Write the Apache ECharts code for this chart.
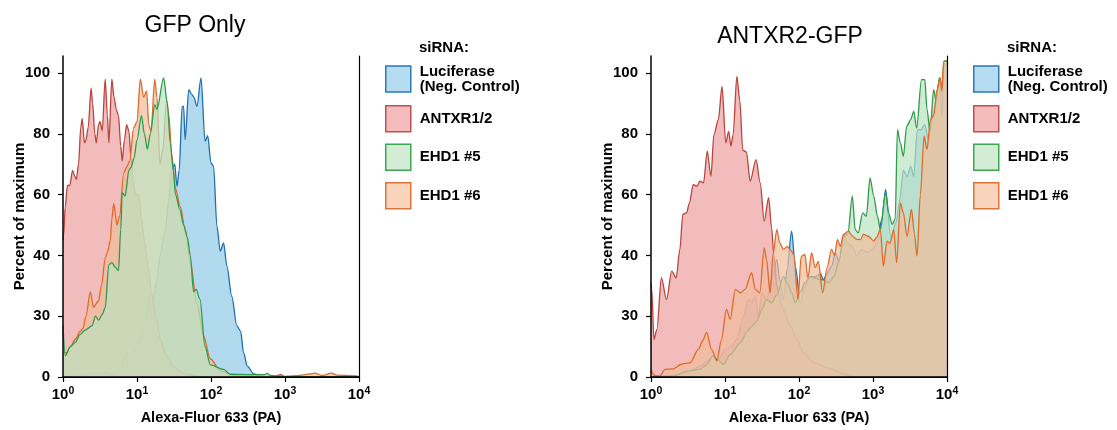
<!DOCTYPE html>
<html>
<head>
<meta charset="utf-8">
<script src="https://cdn.jsdelivr.net/npm/echarts@6/dist/echarts.min.js"></script>
<style>
  html, body { margin: 0; padding: 0; background: #fff; }
  #chart { width: 1117px; height: 430px; }
</style>
</head>
<body>
<div id="chart"></div>
<script>
// x is log10 of fluorescence, y is percent of maximum
var X_TICK_EXPONENTS = [0, 1, 2, 3, 4];
var Y_TICK_VALUES = [0, 20, 40, 60, 80, 100];
var Y_TICK_LABELS = ['0', '30', '40', '60', '80', '100'];
var SAMPLES = ['Luciferase (Neg. Control)', 'ANTXR1/2', 'EHD1 #5', 'EHD1 #6'];
var PANEL_TITLES = ['GFP Only', 'ANTXR2-GFP'];

// GFP Only panel
var gfpLuciferase = [[0.00, 0], [0.10, 0.3], [0.23, 0.6], [0.46, 1.4], [0.55, 1.6], [0.64, 0.8], [0.71, 1.0], [0.77, 2.5], [0.86, 8], [0.93, 7], [1.02, 11.3], [1.11, 16.8], [1.18, 27.7], [1.22, 26], [1.27, 32], [1.31, 39.7], [1.38, 48], [1.43, 58], [1.47, 68], [1.51, 70], [1.54, 62.7], [1.57, 68], [1.61, 89], [1.63, 89], [1.65, 78], [1.70, 94.5], [1.74, 93], [1.77, 92], [1.81, 89], [1.865, 98.4], [1.92, 77.5], [1.955, 79.4], [2.0, 70.4], [2.035, 69.3], [2.08, 49.6], [2.125, 41.4], [2.17, 44.1], [2.215, 36.5], [2.28, 26.6], [2.35, 16.8], [2.40, 15.1], [2.44, 8], [2.49, 3.6], [2.58, 1], [2.67, 0.3], [2.8, 0], [4.0, 0]];
var gfpAntxr = [[0.00, 45], [0.01, 47], [0.03, 56], [0.06, 63], [0.09, 63], [0.13, 68], [0.16, 66], [0.18, 65], [0.21, 70], [0.24, 82], [0.26, 85], [0.29, 77], [0.31, 78], [0.34, 82], [0.38, 95], [0.40, 90], [0.43, 80], [0.45, 77], [0.48, 83], [0.50, 84], [0.53, 81], [0.57, 98], [0.60, 86], [0.62, 77], [0.66, 98], [0.69, 92], [0.72, 88], [0.75, 86], [0.78, 76], [0.80, 71], [0.83, 78], [0.86, 83], [0.89, 81], [0.92, 72], [0.95, 64], [0.98, 60], [1.02, 60], [1.06, 52], [1.10, 45], [1.15, 36], [1.20, 27], [1.26, 19], [1.32, 12], [1.40, 7], [1.50, 3.5], [1.60, 1.5], [1.75, 0.5], [1.9, 0], [2.85, 0], [2.94, 0.8], [3.0, 0], [4.0, 0]];
var gfpEhd5 = [[0.00, 17], [0.03, 7], [0.10, 10], [0.17, 11.5], [0.23, 14], [0.30, 15.4], [0.39, 16.8], [0.44, 20], [0.48, 18.7], [0.53, 20.5], [0.57, 22.8], [0.62, 37], [0.66, 37.6], [0.71, 36], [0.75, 35], [0.78, 48.5], [0.80, 60.6], [0.84, 59.5], [0.89, 68], [0.92, 69], [0.96, 72], [1.0, 78], [1.06, 86], [1.10, 80], [1.14, 75], [1.18, 80], [1.24, 89.6], [1.27, 88], [1.36, 98.4], [1.41, 90], [1.45, 77], [1.49, 68], [1.52, 60], [1.58, 55], [1.63, 50], [1.68, 46], [1.72, 40], [1.765, 28], [1.80, 28.8], [1.85, 25.6], [1.92, 10], [1.99, 4], [2.17, 2.5], [2.26, 0.9], [2.5, 0.8], [2.72, 0.8], [2.76, 1.2], [2.8, 0.5], [2.98, 0], [4.0, 0]];
var gfpEhd6 = [[0.00, 8], [0.05, 8], [0.10, 10], [0.17, 12.5], [0.23, 15], [0.27, 16], [0.31, 20], [0.37, 28], [0.41, 23], [0.48, 25], [0.52, 30], [0.57, 39], [0.60, 41], [0.64, 45], [0.66, 52], [0.685, 57], [0.73, 50], [0.765, 53], [0.82, 67], [0.86, 69], [0.90, 71], [0.955, 82], [1.0, 84], [1.045, 98], [1.09, 92], [1.13, 94], [1.16, 83], [1.19, 81], [1.24, 98], [1.27, 92], [1.31, 70], [1.35, 75], [1.40, 91], [1.43, 86], [1.47, 73], [1.52, 62], [1.585, 56], [1.65, 48.5], [1.72, 38], [1.81, 24], [1.90, 13.5], [1.99, 6], [2.13, 2], [2.3, 0.5], [2.5, 0.3], [2.8, 0.3], [3.0, 0.2], [3.2, 0.5], [3.34, 1], [3.4, 1.3], [3.5, 0.5], [3.63, 1.3], [3.7, 0.6], [3.96, 0.4], [4.0, 0]];

// ANTXR2-GFP panel
var antxLuciferase = [[0.0, 0], [0.3, 0.5], [0.5, 1.5], [0.66, 3.6], [0.80, 5.8], [0.91, 5.8], [1.0, 9], [1.09, 10.2], [1.16, 12.4], [1.25, 20], [1.32, 25.5], [1.36, 24.4], [1.41, 26.6], [1.45, 20], [1.50, 27.7], [1.56, 25.5], [1.63, 32], [1.70, 38.7], [1.74, 32], [1.79, 25.5], [1.84, 35.4], [1.90, 48], [1.95, 36.5], [2.02, 24.4], [2.08, 30], [2.15, 33], [2.22, 33], [2.29, 34], [2.33, 32], [2.38, 34], [2.44, 36.5], [2.49, 40.8], [2.54, 38], [2.61, 47], [2.65, 44], [2.72, 43], [2.78, 40], [2.85, 42], [2.92, 41], [3.0, 42], [3.06, 45], [3.12, 52], [3.17, 61.7], [3.24, 46], [3.31, 50.7], [3.36, 58], [3.41, 68], [3.46, 66], [3.51, 69.3], [3.55, 66], [3.60, 81.4], [3.65, 81.4], [3.70, 83], [3.75, 78], [3.80, 85], [3.85, 90], [3.90, 98.4], [3.93, 86], [3.96, 103], [4.0, 103]];
var antxAntxr = [[0.0, 31], [0.01, 28.8], [0.04, 12.4], [0.08, 15.7], [0.14, 32.7], [0.21, 25.5], [0.28, 34.8], [0.34, 32.6], [0.39, 42], [0.43, 53.5], [0.48, 54], [0.52, 57.3], [0.57, 63.3], [0.62, 62.8], [0.66, 64.4], [0.71, 63.9], [0.76, 74.3], [0.81, 66], [0.85, 79.7], [0.91, 84.7], [0.96, 95.6], [1.01, 77], [1.05, 80.8], [1.08, 76], [1.11, 79.7], [1.16, 98.9], [1.20, 91], [1.24, 74.6], [1.29, 74], [1.34, 64.4], [1.42, 71.5], [1.475, 63.9], [1.53, 51.3], [1.59, 59], [1.63, 49], [1.66, 40], [1.70, 30], [1.75, 25], [1.79, 22], [1.88, 16.8], [1.97, 12.4], [2.06, 8], [2.20, 4.8], [2.38, 3.1], [2.56, 1.4], [2.69, 0.3], [2.8, 0], [4.0, 0]];
var antxEhd5 = [[0.0, 0], [0.3, 0.3], [0.5, 2], [0.66, 2.5], [0.75, 4], [0.84, 7], [0.89, 5.8], [0.98, 4.2], [1.07, 7.4], [1.21, 11.3], [1.30, 15], [1.36, 16.6], [1.43, 18.3], [1.50, 22.2], [1.56, 25.5], [1.63, 24.4], [1.70, 27], [1.79, 33], [1.84, 30.9], [1.90, 27.7], [1.95, 24.4], [2.02, 28], [2.08, 31], [2.15, 33], [2.22, 32.5], [2.29, 32], [2.33, 32], [2.40, 31], [2.47, 33], [2.54, 38], [2.60, 46.3], [2.66, 47], [2.72, 59.5], [2.76, 48.5], [2.80, 47.4], [2.86, 54], [2.91, 52.9], [2.96, 65.5], [3.01, 59.5], [3.06, 52.9], [3.10, 48.5], [3.17, 60.6], [3.21, 54], [3.26, 50.2], [3.30, 52], [3.33, 81.4], [3.37, 77], [3.41, 72.6], [3.455, 82.5], [3.51, 84.7], [3.55, 87.4], [3.59, 81.9], [3.655, 97.8], [3.70, 97.8], [3.73, 88], [3.77, 80.8], [3.82, 94.5], [3.85, 91.2], [3.90, 98.4], [3.93, 95], [3.96, 104], [4.0, 104]];
var antxEhd6 = [[0.0, 2.5], [0.05, 0.5], [0.12, 0.3], [0.19, 2.5], [0.30, 2.7], [0.41, 4.2], [0.53, 4.7], [0.64, 9.1], [0.70, 12], [0.75, 14.7], [0.82, 9], [0.89, 5.3], [0.95, 12], [1.02, 22.2], [1.07, 19], [1.14, 28.8], [1.21, 27.7], [1.27, 28.8], [1.36, 34.3], [1.41, 28.8], [1.47, 27.7], [1.53, 42.5], [1.56, 38.7], [1.61, 27.7], [1.65, 40.3], [1.70, 48.5], [1.74, 44.1], [1.79, 42], [1.84, 43], [1.88, 42], [1.93, 40.3], [1.985, 25.6], [2.03, 39.7], [2.08, 40.3], [2.12, 32.6], [2.17, 40.8], [2.22, 36], [2.26, 38], [2.32, 27.7], [2.38, 36], [2.44, 42], [2.48, 40], [2.52, 45.2], [2.56, 43], [2.60, 46.9], [2.67, 48], [2.72, 46.4], [2.78, 45.3], [2.83, 45.2], [2.87, 46.9], [2.94, 46.3], [3.01, 44.7], [3.05, 46], [3.10, 48.5], [3.14, 36.5], [3.19, 44.7], [3.23, 44], [3.28, 48.5], [3.32, 37.6], [3.37, 57.3], [3.41, 54], [3.46, 46.3], [3.52, 55.1], [3.56, 47], [3.595, 39.8], [3.64, 60], [3.69, 79.2], [3.73, 74.8], [3.775, 84.7], [3.82, 86], [3.865, 94.5], [3.91, 98.4], [3.93, 94], [3.955, 103.8], [4.0, 103.8]];

var FONT = 'Liberation Sans';
// line colour, fill colour, legend swatch fill, legend swatch border
var STYLE = {
    'Luciferase (Neg. Control)': { line: '#1f6fad', fill: '#90cae7', swatch: '#b5dcf0', border: '#2a7ab5' },
    'ANTXR1/2': { line: '#b8453e', fill: '#ec9f9f', swatch: '#f4bcbc', border: '#c0504d' },
    'EHD1 #5': { line: '#2e9b49', fill: '#bce2c0', swatch: '#d4ebd6', border: '#3ba84f' },
    'EHD1 #6': { line: '#e06a2a', fill: '#f1bc9b', swatch: '#f8d4bd', border: '#e0733a' }
};

function toPoints(arr) {
    return arr.map(function (p) { return [Math.pow(10, p[0]), p[1]]; });
}

var chart = echarts.init(document.getElementById('chart'), null, { renderer: 'canvas' });

var grids = [
    { left: 63, right: 758, top: 56, bottom: 52 },
    { left: 651, right: 170, top: 56, bottom: 52 }
];

var xAxes = [], yAxes = [];
grids.forEach(function (g, i) {
    xAxes.push({
        type: 'log', logBase: 10, min: 1, max: 10000, gridIndex: i, z: 20,
        axisLine: { show: true, lineStyle: { color: '#000', width: 1.5 } },
        axisTick: { show: true, length: 5, inside: false, lineStyle: { color: '#000', width: 1.2 } },
        splitLine: { show: false },
        minorTick: { show: false },
        axisLabel: {
            margin: 9,
            formatter: function (v) {
                var k = Math.round(Math.log10(v));
                if (X_TICK_EXPONENTS.indexOf(k) < 0) return '';
                return '{b|10}{s|' + k + '}';
            },
            rich: {
                b: { fontFamily: FONT, fontWeight: 'bold', fontSize: 15, color: '#000', lineHeight: 18 },
                s: { fontFamily: FONT, fontWeight: 'bold', fontSize: 10.5, color: '#000', verticalAlign: 'top', lineHeight: 11 }
            }
        },
        name: 'Alexa-Fluor 633 (PA)', nameLocation: 'middle', nameGap: 33,
        nameTextStyle: { fontFamily: FONT, fontWeight: 'bold', fontSize: 14.5, color: '#000' }
    });
    xAxes.push({
        type: 'log', logBase: 10, min: 1, max: 10000, gridIndex: i, position: 'top', z: 20,
        axisLine: { show: true, lineStyle: { color: '#000', width: 1.2 } },
        axisTick: { show: false }, axisLabel: { show: false }, splitLine: { show: false }
    });
    yAxes.push({
        type: 'value', min: 0, max: 105.6, gridIndex: i, z: 20,
        axisLine: { show: true, lineStyle: { color: '#000', width: 1.5 } },
        axisTick: { show: true, length: 5, customValues: Y_TICK_VALUES, lineStyle: { color: '#000', width: 1.2 } },
        splitLine: { show: false },
        axisLabel: {
            margin: 13, customValues: Y_TICK_VALUES,
            fontFamily: FONT, fontWeight: 'bold', fontSize: 15, color: '#000',
            formatter: function (v) {
                var idx = Y_TICK_VALUES.indexOf(v);
                return idx < 0 ? '' : Y_TICK_LABELS[idx];
            }
        },
        name: 'Percent of maximum', nameLocation: 'middle', nameGap: 36, nameMoveOverlap: false,
        nameTextStyle: { fontFamily: FONT, fontWeight: 'bold', fontSize: 15, color: '#000' }
    });
    yAxes.push({
        type: 'value', min: 0, max: 105.6, gridIndex: i, position: 'right', z: 20,
        axisLine: { show: true, lineStyle: { color: '#000', width: 1.2 } },
        axisTick: { show: false }, axisLabel: { show: false }, splitLine: { show: false }
    });
});

// each series gets its own z so a later fill covers the earlier lines
function makeSeries(name, data, panel, layer) {
    var st = STYLE[name];
    return {
        name: name, type: 'line',
        xAxisIndex: panel * 2, yAxisIndex: panel * 2,
        z: 2 + layer,
        data: toPoints(data),
        showSymbol: false, symbol: 'none',
        smooth: 0.3, smoothMonotone: 'x',
        lineStyle: { color: st.line, width: 1.3 },
        itemStyle: { color: st.line },
        areaStyle: { color: st.fill, opacity: 0.7 },
        animation: false
    };
}

var series = [
    makeSeries(SAMPLES[0], gfpLuciferase, 0, 0),
    makeSeries(SAMPLES[1], gfpAntxr, 0, 1),
    makeSeries(SAMPLES[3], gfpEhd6, 0, 2),
    makeSeries(SAMPLES[2], gfpEhd5, 0, 3),
    makeSeries(SAMPLES[0], antxLuciferase, 1, 0),
    makeSeries(SAMPLES[1], antxAntxr, 1, 1),
    makeSeries(SAMPLES[2], antxEhd5, 1, 2),
    makeSeries(SAMPLES[3], antxEhd6, 1, 3)
];

function makeLegend(left) {
    return {
        orient: 'vertical', left: left, top: 64, padding: 0,
        icon: 'rect', itemWidth: 25, itemHeight: 26, itemGap: 11,
        selectedMode: false,
        textStyle: { fontFamily: FONT, fontWeight: 'bold', fontSize: 15, color: '#000', lineHeight: 15, padding: [0, 0, 0, 4] },
        formatter: function (n) { return n.replace(' (', '\n('); },
        data: SAMPLES.map(function (n) {
            return { name: n, itemStyle: { color: STYLE[n].swatch, borderColor: STYLE[n].border, borderWidth: 1.5 } };
        })
    };
}

var option = {
    backgroundColor: '#fff',
    animation: false,
    title: [
        { text: PANEL_TITLES[0], left: 190, top: 9, textAlign: 'center',
          textStyle: { fontFamily: FONT, fontWeight: 'normal', fontSize: 23, color: '#000' } },
        { text: PANEL_TITLES[1], left: 785, top: 20, textAlign: 'center',
          textStyle: { fontFamily: FONT, fontWeight: 'normal', fontSize: 23, color: '#000' } },
        { text: 'siRNA:', left: 414, top: 35,
          textStyle: { fontFamily: FONT, fontWeight: 'bold', fontSize: 15, color: '#000' } },
        { text: 'siRNA:', left: 1002, top: 35,
          textStyle: { fontFamily: FONT, fontWeight: 'bold', fontSize: 15, color: '#000' } }
    ],
    legend: [makeLegend(385), makeLegend(973)],
    grid: grids,
    xAxis: xAxes,
    yAxis: yAxes,
    series: series
};

chart.setOption(option);
</script>
</body>
</html>
